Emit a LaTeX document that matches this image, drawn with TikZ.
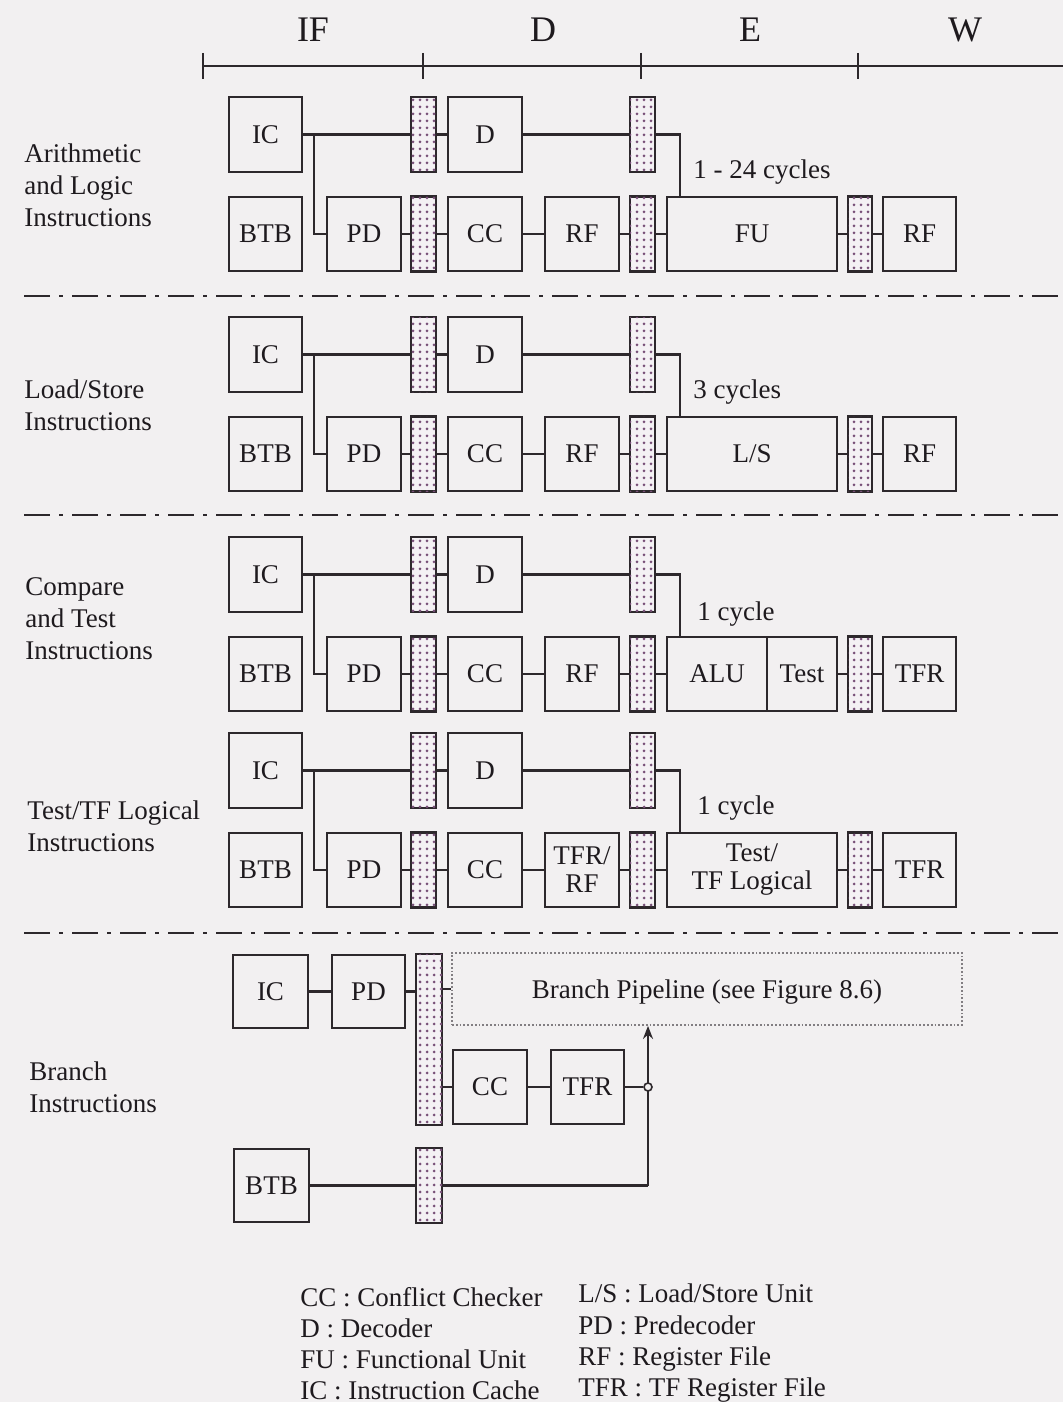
\documentclass[tikz,border=0pt]{standalone}
\usepackage{fontspec}
\setmainfont{Liberation Serif}
\usetikzlibrary{arrows.meta,patterns.meta,calc}
\definecolor{bg}{RGB}{242,240,241}
\definecolor{ln}{RGB}{45,40,44}
\definecolor{txt}{RGB}{30,26,30}
\definecolor{latchbg}{RGB}{244,241,244}
\definecolor{dotc}{RGB}{120,80,120}
\definecolor{dotbox}{RGB}{130,126,130}
\begin{document}
\begin{tikzpicture}[x=0.5pt,y=-0.5pt,
  every node/.style={text=txt, font=\fontsize{13.5}{14}\selectfont},
  blk/.style={draw=ln, line width=1.2pt, inner sep=0pt, minimum height=37pt, minimum width=37pt, align=center},
  latch/.style={draw=ln, line width=1.2pt, inner sep=0pt, minimum width=12.5pt, minimum height=37.5pt, fill=latchbg,
     postaction={pattern={Dots[radius=0.75pt,distance=3.5pt]}, pattern color=dotc}},
  conn/.style={draw=ln, line width=1.1pt},
  sep/.style={draw=ln, line width=1.4pt, dash pattern=on 13pt off 4.5pt on 2pt off 4.5pt},
  lbl/.style={anchor=west, align=left, inner sep=0pt, font=\fontsize{13.5}{16}\selectfont},
  cyc/.style={anchor=west, inner sep=0pt},
  stage/.style={font=\fontsize{18}{20}\selectfont},
  leg/.style={anchor=base west, inner sep=0pt}
]
\fill[bg] (0,0) rectangle (1063,1402);
\useasboundingbox (0,0) rectangle (1063,1402);

% timeline
\node[stage] (sIF) at (313,30) {IF};
\node[stage] (sD) at (543,30) {D};
\node[stage] (sE) at (750,30) {E};
\node[stage] (sW) at (965,30) {W};
\draw[ln, line width=1.4pt] (203,66) -- (1063,66);
\foreach \x in {203,423,641,858}{\draw[ln, line width=1.3pt] (\x,53) -- (\x,79);}

% row labels
\node[lbl] (labA) at (24,185) {Arithmetic\\and Logic\\Instructions};
\node[lbl] (labB) at (24,405) {Load/Store\\Instructions};
\node[lbl] (labC) at (25,619) {Compare\\and Test\\Instructions};
\node[lbl] (labD) at (27,826) {Test/TF Logical\\Instructions};
\node[lbl] (labE) at (29,1087) {Branch\\Instructions};

% separators
\draw[sep] (24,296) -- (1063,296);
\draw[sep] (24,515) -- (1063,515);
\draw[sep] (24,933) -- (1063,933);

% common parts of rows 1-4
\foreach \r/\o in {a/0,b/220,c/440,d/636}{
  \node[blk, minimum width=36.5pt, minimum height=37.5pt] (IC\r) at (265.5,{134.5+\o}) {IC};
  \node[blk, minimum width=36.5pt] (BTB\r) at (265.5,{234+\o}) {BTB};
  \node[blk] (PD\r) at (364,{234+\o}) {PD};
  \node[latch] (LA\r) at (423.5,{134.5+\o}) {};
  \node[latch] (LB\r) at (423.5,{234+\o}) {};
  \node[blk, minimum height=37.5pt] (D\r) at (485,{134.5+\o}) {D};
  \node[blk] (CC\r) at (485,{234+\o}) {CC};
  \node[latch] (LC\r) at (642.5,{134.5+\o}) {};
  \node[latch] (LD\r) at (642.5,{234+\o}) {};
  \node[latch, minimum width=12pt] (LE\r) at (860,{234+\o}) {};
  \coordinate (J\r) at (314,{134.5+\o});
  \coordinate (K\r) at (680,{134.5+\o});
  \draw[conn] (IC\r) -- (LA\r) -- (D\r) -- (LC\r);
  \draw[conn] (J\r) |- (PD\r.west);
  \draw[conn] (PD\r) -- (LB\r) -- (CC\r);
}

% row 1
\node[blk] (RFa) at (582,234) {RF};
\node[blk, minimum width=85pt] (Ea) at (752,234) {FU};
\node[blk, minimum width=36.5pt] (Wa) at (919.5,234) {RF};
\node[cyc] (cyca) at (693,172) {1 - 24 cycles};
% row 2
\node[blk] (RFb) at (582,454) {RF};
\node[blk, minimum width=85pt] (Eb) at (752,454) {L/S};
\node[blk, minimum width=36.5pt] (Wb) at (919.5,454) {RF};
\node[cyc] (cycb) at (693,392) {3 cycles};
% row 3
\node[blk] (RFc) at (582,674) {RF};
\node[blk, minimum width=50pt] (ALUc) at (717,674) {ALU};
\node[blk, minimum width=35pt] (Ec) at (802,674) {Test};
\node[blk, minimum width=36.5pt] (Wc) at (919.5,674) {TFR};
\node[cyc] (cycc) at (697,614) {1 cycle};
% row 4
\node[blk] (RFd) at (582,870) {TFR/\\RF};
\node[blk, minimum width=85pt] (Ed) at (752,870) {Test/\\TF Logical};
\node[blk, minimum width=36.5pt] (Wd) at (919.5,870) {TFR};
\node[cyc] (cycd) at (697,808) {1 cycle};

\draw[conn] (CCa) -- (RFa) -- (LDa) -- (Ea) -- (LEa) -- (Wa);
\draw[conn] (LCa) -- (Ka) -- (Ka |- Ea.north);
\draw[conn] (CCb) -- (RFb) -- (LDb) -- (Eb) -- (LEb) -- (Wb);
\draw[conn] (LCb) -- (Kb) -- (Kb |- Eb.north);
\draw[conn] (CCc) -- (RFc) -- (LDc) -- (ALUc);
\draw[conn] (Ec) -- (LEc) -- (Wc);
\draw[conn] (LCc) -- (Kc) -- (Kc |- ALUc.north);
\draw[conn] (CCd) -- (RFd) -- (LDd) -- (Ed) -- (LEd) -- (Wd);
\draw[conn] (LCd) -- (Kd) -- (Kd |- Ed.north);

% branch section
\node[blk, minimum width=37.5pt, minimum height=36.5pt] (ICe) at (270.5,991.5) {IC};
\node[blk, minimum width=36.5pt, minimum height=36.5pt] (PDe) at (368.5,991.5) {PD};
\node[latch, minimum width=13pt, minimum height=85.5pt] (LAe) at (429,1039.5) {};
\node[draw=dotbox, densely dotted, line width=0.9pt, minimum width=255pt, minimum height=36pt, inner sep=0pt] (BP) at (707,989) {};
\node (BPt) at (707,992) {Branch Pipeline (see Figure 8.6)};
\node[blk, minimum height=37pt] (CCe) at (490,1087) {CC};
\node[blk, minimum width=36.5pt, minimum height=37pt] (TFRe) at (587.5,1087) {TFR};
\node[blk, minimum width=37.5pt, minimum height=36.5pt] (BTBe) at (271.5,1185.5) {BTB};
\node[latch, minimum width=13pt, minimum height=37.5pt] (LBe) at (429,1185.5) {};
\coordinate (Ke) at (648,1185.5);
\draw[conn] (ICe) -- (PDe) -- (PDe -| LAe.west);
\draw[conn] (LAe.east |- BP) -- (BP.west);
\draw[conn] (LAe.east |- CCe) -- (CCe) -- (TFRe);
\draw[conn] (BTBe) -- (LBe) -- (Ke);
\draw[conn, -{Stealth[length=6.5pt,width=5pt]}] (Ke) -- (Ke |- BP.south);
\node[circle, draw=ln, fill=bg, line width=0.8pt, inner sep=0pt, minimum size=4pt] (jc) at (648,1087) {};
\draw[conn] (TFRe) -- (jc);

% legend
\node[leg] (g1) at (300,1306) {CC : Conflict Checker};
\node[leg] (g2) at (300,1337) {D : Decoder};
\node[leg] (g3) at (300,1368) {FU : Functional Unit};
\node[leg] (g4) at (300,1399) {IC : Instruction Cache};
\node[leg] (g5) at (578,1302) {L/S : Load/Store Unit};
\node[leg] (g6) at (578,1334) {PD : Predecoder};
\node[leg] (g7) at (578,1365) {RF : Register File};
\node[leg] (g8) at (578,1396) {TFR : TF Register File};
\end{tikzpicture}
\end{document}
